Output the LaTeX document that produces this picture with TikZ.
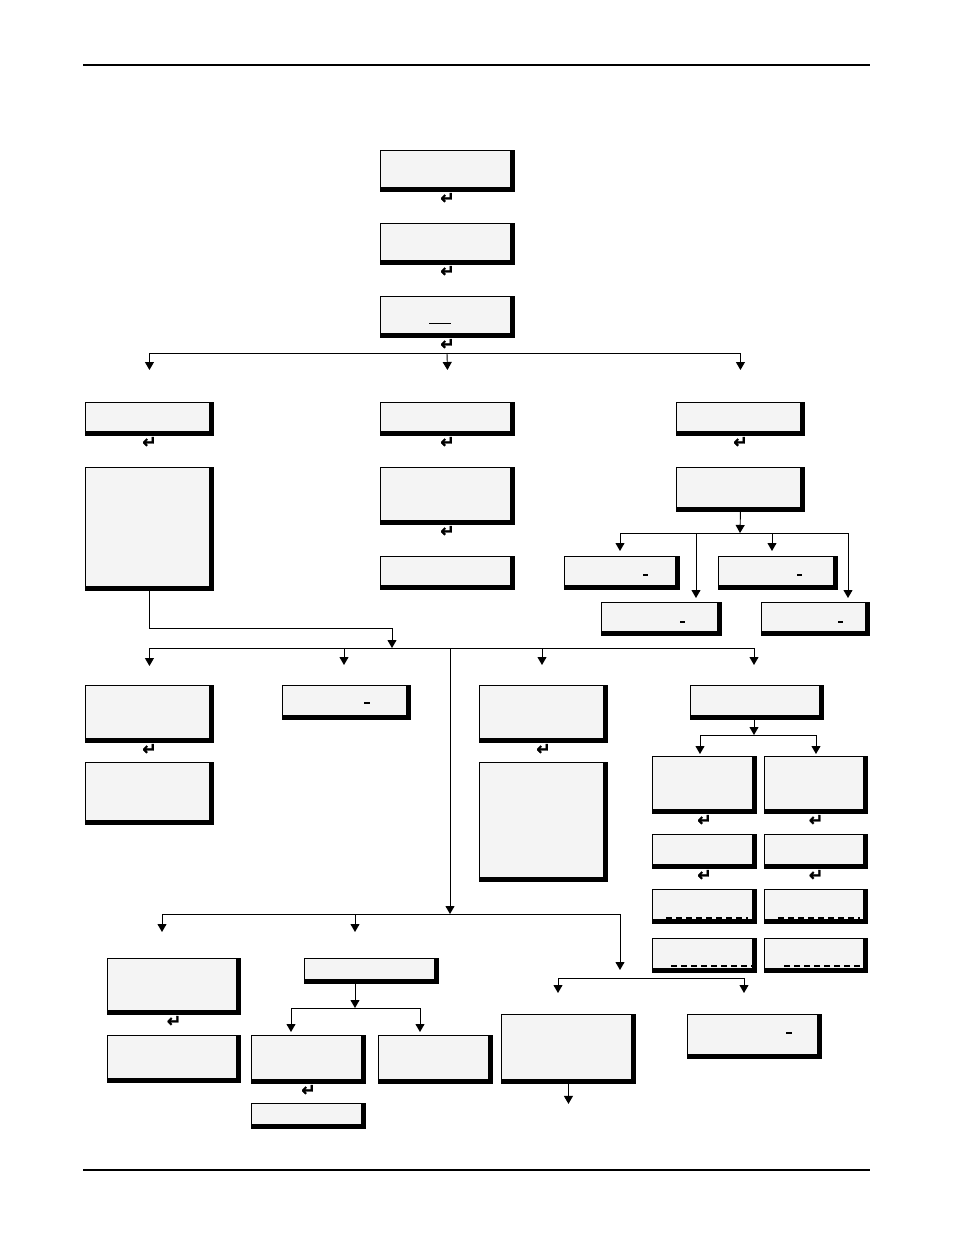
\documentclass[tikz,border=0pt]{standalone}
\usepackage{fontspec}
\newfontfamily\keyfont{DejaVu Sans}[FakeBold=1.6]
\usetikzlibrary{arrows.meta,positioning}
\definecolor{Panel}{HTML}{F4F4F4}

\begin{document}
\begin{tikzpicture}[x=1pt,y=-1pt,
    lcd/.style={draw,fill=Panel,line width=0.9pt,anchor=north west,inner sep=0pt,
      path picture={\fill[black] (path picture bounding box.south west) rectangle
          ([yshift=4pt]path picture bounding box.south east);
        \fill[black] ([xshift=-4pt]path picture bounding box.north east) rectangle
          (path picture bounding box.south east);}},
    enterkey/.style={font=\keyfont\bfseries\fontsize{17}{17}\selectfont,inner sep=0pt},
    flow/.style={line width=0.9pt,-{Triangle[width=9pt,length=8pt]}},
    cursor/.style={line width=1.1pt},
    blanks/.style={line width=1.1pt,dash pattern=on 6pt off 4pt}]
  \useasboundingbox (0,0) rectangle (954,1235);
  % page rules
  \draw[line width=1.3pt] (83,65) -- (870,65);
  \draw[line width=1.3pt] (83,1170) -- (870,1170);

  % start screens
  \node[lcd,minimum width=134pt,minimum height=41pt] (b1) at (380,150) {};
  \node[enterkey,below=1pt of b1] (kb1) {↵};
  \node[lcd,minimum width=134pt,minimum height=41pt] (b2) at (380,223) {};
  \node[enterkey,below=1pt of b2] (kb2) {↵};
  \node[lcd,minimum width=134pt,minimum height=41pt] (b3) at (380,296) {};
  \node[enterkey,below=1pt of b3] (kb3) {↵};
  \draw[line width=1pt] (429,323) -- (451,323);

  % left column
  \node[lcd,minimum width=128pt,minimum height=33pt] (l1) at (85,402) {};
  \node[enterkey,below=1pt of l1] (kl1) {↵};
  \node[lcd,minimum width=128pt,minimum height=123pt] (l2) at (85,467) {};

  % middle column
  \node[lcd,minimum width=134pt,minimum height=33pt] (m1) at (380,402) {};
  \node[enterkey,below=1pt of m1] (km1) {↵};
  \node[lcd,minimum width=134pt,minimum height=57pt] (m2) at (380,467) {};
  \node[enterkey,below=1pt of m2] (km2) {↵};
  \node[lcd,minimum width=134pt,minimum height=33pt] (m3) at (380,556) {};

  % right column
  \node[lcd,minimum width=128pt,minimum height=33pt] (r1) at (676,402) {};
  \node[enterkey,below=1pt of r1] (kr1) {↵};
  \node[lcd,minimum width=128pt,minimum height=44pt] (r2) at (676,467) {};

  % first branch
  \coordinate (fan1) at (447,353);
  \draw[flow] (fan1) -| ([yshift=32pt]l1.north);
  \draw[flow] (fan1) -- ([yshift=32pt]m1.north);
  \draw[flow] (fan1) -| ([yshift=32pt]r1.north);

  % four options under r2
  \node[lcd,minimum width=115pt,minimum height=33pt] (s1) at (564,556) {};
  \node[lcd,minimum width=119pt,minimum height=33pt] (s2) at (718,556) {};
  \node[lcd,minimum width=120pt,minimum height=33pt] (s3) at (601,602) {};
  \node[lcd,minimum width=108pt,minimum height=33pt] (s4) at (761,602) {};
  \draw[cursor] (643,575) -- (648,575);
  \draw[cursor] (797,575) -- (802,575);
  \draw[cursor] (680,622) -- (685,622);
  \draw[cursor] (838,622) -- (843,622);

  \coordinate (fan2) at (740,533);
  \coordinate (ts1) at (620,551);
  \coordinate (ts2) at (772,551);
  \coordinate (ts3) at (696,598);
  \coordinate (ts4) at (848,598);
  \draw[flow] (r2.south) -- (fan2);
  \draw[flow] (fan2) -| (ts1);
  \draw[flow] (fan2) -| (ts2);
  \draw[flow] (fan2) -| (ts3);
  \draw[flow] (fan2) -| (ts4);

  % second branch
  \coordinate (fan3) at (392,648);
  \draw[flow] (l2.south) -- ++(0,38) -| (fan3);

  \node[lcd,minimum width=128pt,minimum height=57pt] (a1) at (85,685) {};
  \node[enterkey,below=1pt of a1] (ka1) {↵};
  \node[lcd,minimum width=128pt,minimum height=62pt] (a2) at (85,762) {};
  \node[lcd,minimum width=128pt,minimum height=34pt] (a3) at (282,685) {};
  \draw[cursor] (364,703) -- (370,703);

  \node[lcd,minimum width=128pt,minimum height=57pt] (c1) at (479,685) {};
  \node[enterkey,below=1pt of c1] (kc1) {↵};
  \node[lcd,minimum width=128pt,minimum height=119pt] (c2) at (479,762) {};

  \node[lcd,minimum width=133pt,minimum height=34pt] (d1) at (690,685) {};
  \coordinate (fan7) at (754,735);
  \draw[flow] (d1.south -| fan7) -- (fan7);

  \coordinate (ta3) at (344,665);
  \coordinate (tc1) at (542,665);
  \coordinate (td1) at (754,665);
  \draw[flow] (fan3) -| ([yshift=19pt]a1.north);
  \draw[flow] (fan3) -| (ta3);
  \draw[flow] (fan3) -| (tc1);
  \draw[flow] (fan3) -| (td1);

  % two stacks under d1
  \node[lcd,minimum width=104pt,minimum height=57pt] (d2l) at (652,756) {};
  \node[enterkey,below=1pt of d2l] (kd2l) {↵};
  \node[lcd,minimum width=104pt,minimum height=34pt] (d3l) at (652,834) {};
  \node[enterkey,below=1pt of d3l] (kd3l) {↵};
  \node[lcd,minimum width=104pt,minimum height=34pt] (d4l) at (652,889) {};
  \node[lcd,minimum width=104pt,minimum height=34pt] (d5l) at (652,938) {};
  \node[lcd,minimum width=103pt,minimum height=57pt] (d2r) at (764,756) {};
  \node[enterkey,below=1pt of d2r] (kd2r) {↵};
  \node[lcd,minimum width=103pt,minimum height=34pt] (d3r) at (764,834) {};
  \node[enterkey,below=1pt of d3r] (kd3r) {↵};
  \node[lcd,minimum width=103pt,minimum height=34pt] (d4r) at (764,889) {};
  \node[lcd,minimum width=103pt,minimum height=34pt] (d5r) at (764,938) {};
  \draw[blanks] (666,918) -- (748,918);
  \draw[blanks] (778,918) -- (860,918);
  \draw[blanks] (671,966) -- (753,966);
  \draw[blanks] (784,966) -- (862,966);

  \coordinate (td2l) at (700,754);
  \coordinate (td2r) at (816,754);
  \draw[flow] (fan7) -| (td2l);
  \draw[flow] (fan7) -| (td2r);

  % third branch
  \coordinate (fan4) at (450,914);
  \draw[flow] (fan3) -| (fan4);

  \node[lcd,minimum width=133pt,minimum height=56pt] (e1) at (107,958) {};
  \node[enterkey,below=1pt of e1] (ke1) {↵};
  \node[lcd,minimum width=133pt,minimum height=47pt] (e2) at (107,1035) {};

  \node[lcd,minimum width=134pt,minimum height=25pt] (f1) at (304,958) {};
  \coordinate (fan6) at (355,1008);
  \draw[flow] (f1.south -| fan6) -- (fan6);
  \node[lcd,minimum width=114pt,minimum height=48pt] (f2l) at (251,1035) {};
  \node[enterkey,below=1pt of f2l] (kf2l) {↵};
  \node[lcd,minimum width=114pt,minimum height=25pt] (f3) at (251,1103) {};
  \node[lcd,minimum width=114pt,minimum height=48pt] (f2r) at (378,1035) {};
  \coordinate (tf2l) at (291,1032);
  \coordinate (tf2r) at (420,1032);
  \draw[flow] (fan6) -| (tf2l);
  \draw[flow] (fan6) -| (tf2r);

  \coordinate (te1) at (162,932);
  \coordinate (tf1) at (355,932);
  \coordinate (tg) at (620,970);
  \draw[flow] (fan4) -| (te1);
  \draw[flow] (fan4) -| (tf1);
  \draw[flow] (fan4) -| (tg);

  \coordinate (fan5) at (620,978);
  \node[lcd,minimum width=134pt,minimum height=69pt] (g1) at (501,1014) {};
  \node[lcd,minimum width=134pt,minimum height=44pt] (g2) at (687,1014) {};
  \draw[cursor] (786,1033) -- (792,1033);
  \coordinate (tg1) at (558,993);
  \coordinate (tg2) at (744,993);
  \draw[flow] (fan5) -| (tg1);
  \draw[flow] (fan5) -| (tg2);
  \draw[flow] (g1.south) -- ([yshift=-20pt]g1.south);
\end{tikzpicture}
\end{document}
